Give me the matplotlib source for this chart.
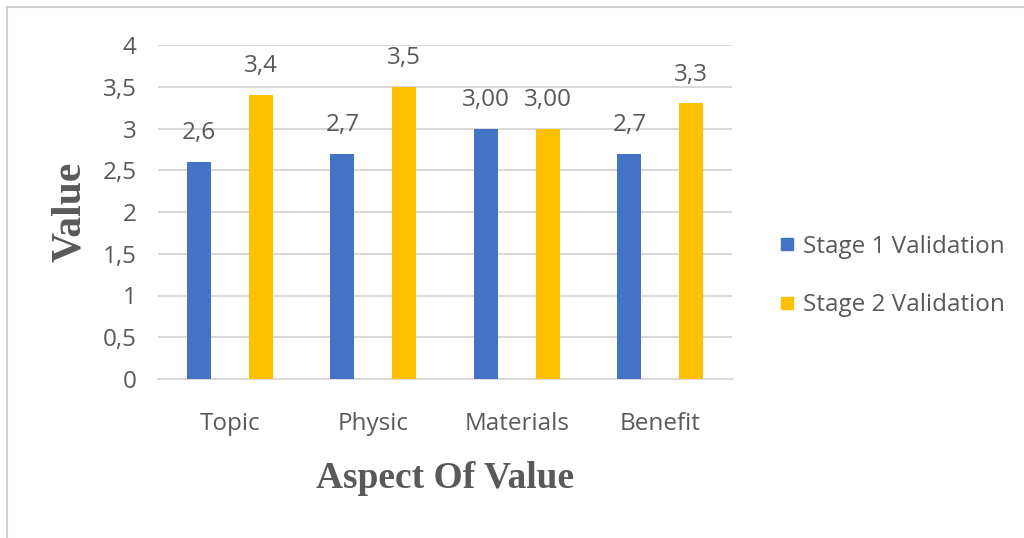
import matplotlib
matplotlib.use("Agg")
import matplotlib.pyplot as plt
import numpy as np
from matplotlib.patches import Rectangle
from matplotlib.lines import Line2D

categories = ["Topic", "Physic", "Materials", "Benefit"]
stage1 = [2.6, 2.7, 3.0, 2.7]
stage2 = [3.4, 3.5, 3.0, 3.3]
stage1_labels = ["2,6", "2,7", "3,00", "2,7"]
stage2_labels = ["3,4", "3,5", "3,00", "3,3"]
yticks = [0, 0.5, 1, 1.5, 2, 2.5, 3, 3.5, 4]
ytick_labels = ["0", "0,5", "1", "1,5", "2", "2,5", "3", "3,5", "4"]
series_names = ["Stage 1 Validation", "Stage 2 Validation"]

blue = "#4472C4"
orange = "#FFC000"
gray = "#595959"
sans = ["Open Sans", "DejaVu Sans"]
serif = ["Liberation Serif", "DejaVu Serif"]
fs = 17.5

fig = plt.figure(figsize=(10.24, 5.38), dpi=100)
fig.patches.append(Rectangle((7/1024, -0.1), 1.2, 1 - 7/538 + 0.1, transform=fig.transFigure,
                             fill=False, edgecolor="#d0d0d0", linewidth=1.5))
ax = fig.add_axes([158/1024, 1 - 379/538, (732 - 158)/1024, (379 - 45)/538])

x = np.arange(len(categories))
w = 0.167
off = 0.215
b1 = ax.bar(x - off, stage1, w, color=blue, zorder=3)
b2 = ax.bar(x + off, stage2, w, color=orange, zorder=3)

for bars, labels in ((b1, stage1_labels), (b2, stage2_labels)):
    for rect, lab in zip(bars, labels):
        ax.annotate(lab, (rect.get_x() + rect.get_width()/2, rect.get_height()),
                    xytext=(0, 16.5), textcoords="offset points", ha="center", va="baseline",
                    fontsize=fs, color=gray, family=sans)

ax.set_xlim(-0.5, len(categories) - 0.5)
ax.set_ylim(0, 4)
ax.set_yticks(yticks)
ax.set_yticklabels(ytick_labels, fontsize=fs, color=gray, family=sans)
ax.set_xticks(x)
ax.set_xticklabels(categories, fontsize=fs, color=gray, family=sans)
ax.tick_params(axis="y", length=0, pad=15.5)
ax.tick_params(axis="x", length=0, pad=24)
ax.grid(axis="y", color="#d9d9d9", linewidth=1.5, zorder=0)
for s in ["top", "right", "left"]:
    ax.spines[s].set_visible(False)
ax.spines["bottom"].set_color("#d9d9d9")
ax.spines["bottom"].set_linewidth(1.5)

ax.set_xlabel("Aspect Of Value", fontsize=27, fontweight="bold", color=gray, family=serif, labelpad=18)
ax.set_ylabel("Value", fontsize=30, fontweight="bold", color=gray, family=serif, labelpad=10)

handles = [Line2D([], [], marker="s", linestyle="none", markersize=9, color=blue),
           Line2D([], [], marker="s", linestyle="none", markersize=9, color=orange)]
leg = fig.legend(handles, series_names, loc="center left", bbox_to_anchor=(768/1024, 1 - 276/538),
                 frameon=False, prop={"family": sans, "size": fs}, labelcolor=gray,
                 labelspacing=1.4, handletextpad=0.25, handlelength=0.8, borderaxespad=0)

fig.savefig("out.png", dpi=100)
